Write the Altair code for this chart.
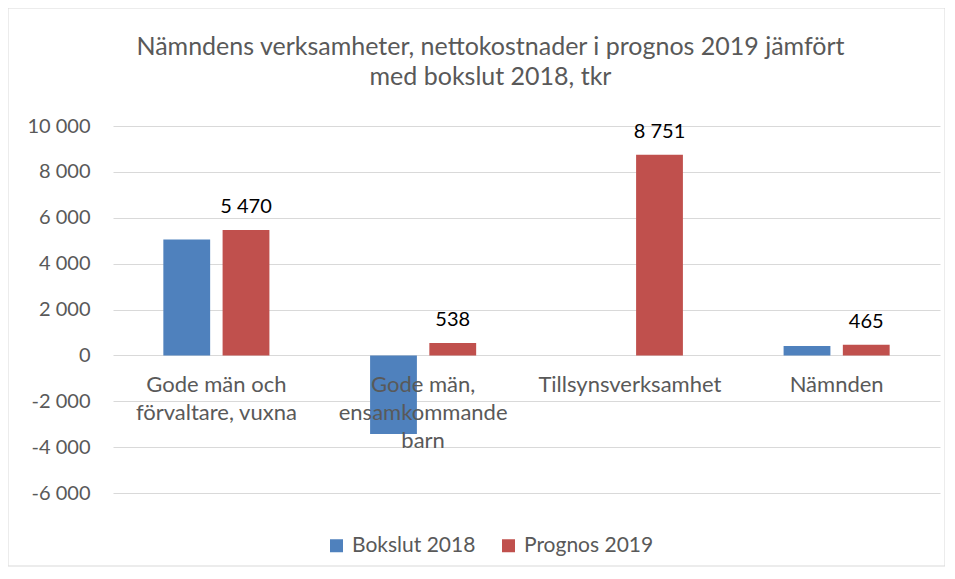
import altair as alt
import pandas as pd

categories = [
    "Gode män och\nförvaltare, vuxna",
    "Gode män,\nensamkommande\nbarn",
    "Tillsynsverksamhet",
    "Nämnden",
]
series = ["Bokslut 2018", "Prognos 2019"]
bokslut_2018 = [5050, -3430, 0, 410]
prognos_2019 = [5470, 538, 8751, 465]
y_ticks = [-6000, -4000, -2000, 0, 2000, 4000, 6000, 8000, 10000]
colors = ["#4F81BD", "#C0504D"]

rows = []
for c, b, p in zip(categories, bokslut_2018, prognos_2019):
    rows.append({"category": c, "series": series[0], "value": b})
    rows.append({"category": c, "series": series[1], "value": p})
df = pd.DataFrame(rows)
cat_df = pd.DataFrame({"category": categories})

FONT = "Lato"
GRAY = "#595959"

x_enc = alt.X("category:N", sort=categories, axis=None,
              scale=alt.Scale(domain=categories, paddingInner=0.487, paddingOuter=0.2435))
xoff_enc = alt.XOffset("series:N", sort=series,
                       scale=alt.Scale(domain=series, paddingInner=0.21))
y_enc = alt.Y(
    "value:Q",
    scale=alt.Scale(domain=[-6000, 10000], nice=False, zero=True),
    axis=alt.Axis(
        values=y_ticks, grid=True, gridColor="#D9D9D9", gridWidth=1,
        domain=False, ticks=False, title=None,
        labelExpr="(datum.value < 0 ? '-' : '') + replace(format(abs(datum.value), ','), ',', ' ')",
        labelFontSize=20, labelColor=GRAY, labelFont=FONT, labelPadding=23,
    ),
)

bars = alt.Chart(df).mark_bar().encode(
    x=x_enc,
    xOffset=xoff_enc,
    y=y_enc,
    color=alt.Color(
        "series:N", sort=series,
        scale=alt.Scale(domain=series, range=colors),
        legend=alt.Legend(
            title=None, orient="none", direction="horizontal",
            legendX=213, legendY=409,
            symbolType="square", symbolSize=169, symbolStrokeWidth=0,
            labelFontSize=21, labelColor=GRAY, labelFont=FONT,
            columnPadding=22, labelOffset=5,
        ),
    ),
)

value_labels = alt.Chart(df).transform_filter(
    alt.datum.series == "Prognos 2019"
).transform_calculate(
    label="replace(format(datum.value, ','), ',', ' ')"
).mark_text(
    baseline="middle", dy=-23, fontSize=20, font=FONT, color="#000000"
).encode(
    x=x_enc, xOffset=xoff_enc, y=alt.Y("value:Q"), text="label:N"
)

cat_labels = alt.Chart(cat_df).mark_text(
    baseline="top", dy=20, lineBreak="\n", lineHeight=28,
    fontSize=22, font=FONT, color=GRAY
).encode(
    x=alt.X("category:N", sort=categories),
    y=alt.datum(0),
    text="category:N",
)

border = alt.Chart(pd.DataFrame({"a": [0]})).mark_rect(
    fillOpacity=0, stroke="#D9D9D9", strokeWidth=1
).encode(
    x=alt.value(-105), x2=alt.value(832), y=alt.value(-118), y2=alt.value(440)
)

chart = alt.layer(border, bars, value_labels, cat_labels).properties(
    width=827,
    height=367,
    autosize="none",
    padding={"left": 105, "top": 118, "right": 5, "bottom": 75},
    title=alt.TitleParams(
        ["Nämndens verksamheter, nettokostnader i prognos 2019 jämfört",
         "med bokslut 2018, tkr"],
        fontSize=25, font=FONT, fontWeight="normal", color=GRAY,
        anchor="middle", dx=-36, offset=-82, lineHeight=30,
    ),
).configure_view(stroke=None)

chart.save("out.html", embed_options={"renderer": "svg", "actions": False})
